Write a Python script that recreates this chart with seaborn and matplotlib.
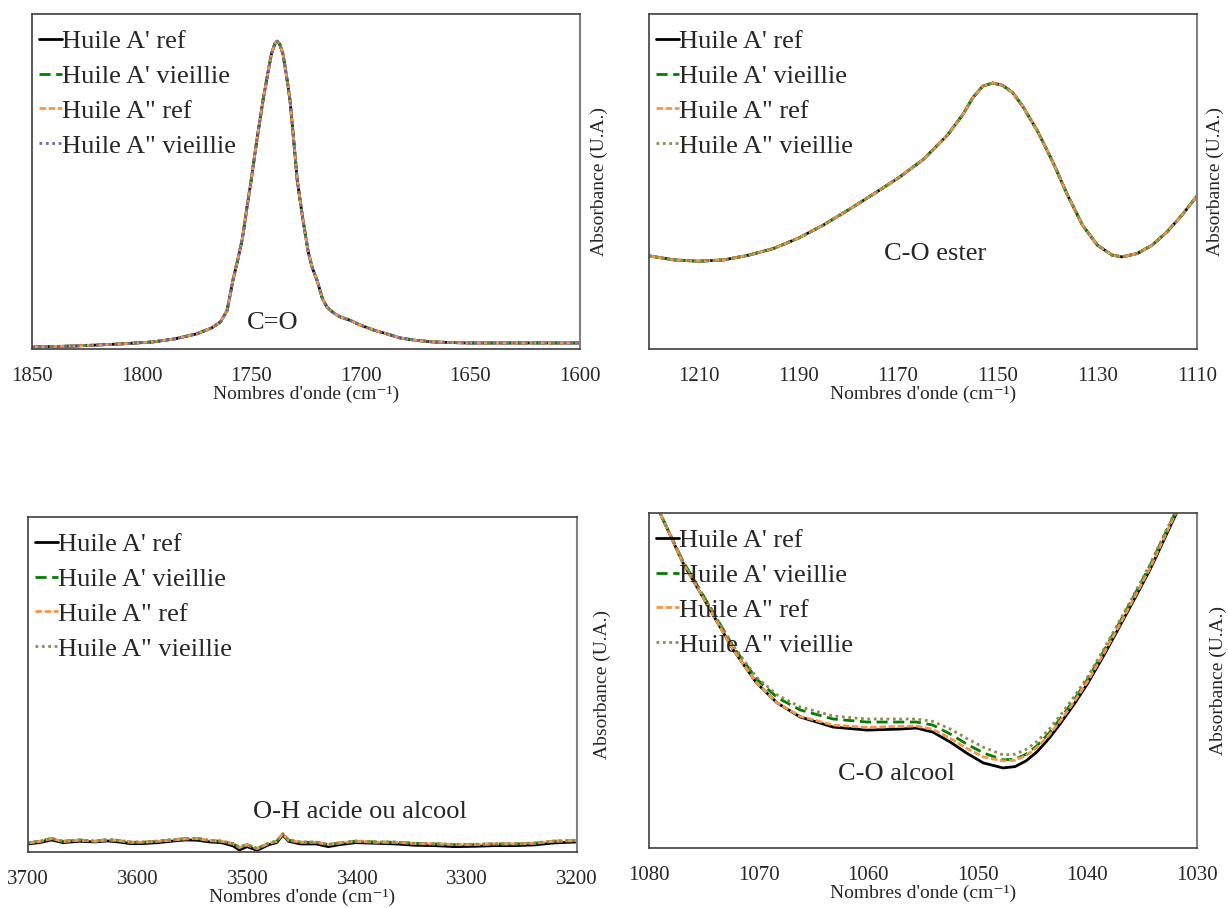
import matplotlib
matplotlib.use("Agg")
import matplotlib.pyplot as plt
import numpy as np
import pandas as pd
import seaborn as sns

# ---------------- data ----------------
series_names = ["Huile A' ref", "Huile A' vieillie", 'Huile A" ref', 'Huile A" vieillie']

# Panel 1 : C=O (1850-1600 cm-1)
co_wn = [1850, 1830, 1810, 1795, 1785, 1775, 1768, 1764, 1761, 1758.3, 1756, 1754, 1752, 1750,
         1747.5, 1744.6, 1742.5, 1740.8, 1739.3, 1738.2, 1737, 1735.5, 1734, 1732.3, 1730.7, 1729,
         1726.5, 1724, 1722, 1720, 1717.5, 1715.4, 1712.5, 1709.5, 1705, 1700.4, 1694.4, 1688,
         1682.1, 1675, 1667.1, 1651.6, 1630, 1600]
co_abs = [0.006, 0.009, 0.015, 0.021, 0.030, 0.045, 0.063, 0.081, 0.115, 0.206, 0.27, 0.33, 0.42, 0.504,
          0.62, 0.743, 0.82, 0.88, 0.91, 0.919, 0.91, 0.88, 0.82, 0.743, 0.63, 0.504,
          0.39, 0.29, 0.24, 0.206, 0.150, 0.125, 0.108, 0.096, 0.086, 0.072, 0.057, 0.045,
          0.033, 0.026, 0.021, 0.018, 0.018, 0.018]
co_A1_ref = co_A1_vieil = co_A2_ref = co_A2_vieil = co_abs

# Panel 2 : C-O ester (1220-1110 cm-1)
est_wn = [1220, 1215, 1210, 1205, 1200, 1195, 1190, 1185, 1180, 1175, 1170, 1165, 1160, 1157, 1155,
          1153, 1151, 1149, 1147, 1145, 1142, 1139, 1136, 1133, 1130, 1127, 1125, 1122, 1119, 1116,
          1113, 1110]
est_abs = [0.278, 0.266, 0.262, 0.266, 0.280, 0.300, 0.331, 0.370, 0.415, 0.462, 0.510, 0.565, 0.640,
           0.700, 0.750, 0.785, 0.794, 0.787, 0.765, 0.725, 0.650, 0.560, 0.460, 0.370, 0.310, 0.280,
           0.275, 0.285, 0.310, 0.350, 0.400, 0.457]
est_A1_ref = est_A1_vieil = est_A2_ref = est_A2_vieil = est_abs

# Panel 3 : O-H (3700-3200 cm-1)
oh_wn = [3700, 3689.6, 3678.7, 3668, 3653.5, 3639, 3628, 3617.5, 3606.7, 3596, 3581.5, 3567, 3556,
         3545.5, 3534.6, 3523.8, 3513, 3507.6, 3500.4, 3491.4, 3480.6, 3473.4, 3468, 3462.6, 3451.8,
         3437.4, 3426.6, 3415.8, 3401.4, 3383.4, 3365.3, 3347.3, 3329.3, 3311.3, 3293.3, 3275.3,
         3257.3, 3239.2, 3221.3, 3200]
oh_A1_ref = [0.024, 0.028, 0.036, 0.028, 0.032, 0.030, 0.033, 0.030, 0.025, 0.025, 0.028, 0.033, 0.036,
             0.035, 0.030, 0.028, 0.018, 0.006, 0.016, 0.005, 0.022, 0.028, 0.051, 0.032, 0.024,
             0.024, 0.016, 0.022, 0.028, 0.026, 0.024, 0.020, 0.019, 0.016, 0.017, 0.019,
             0.019, 0.021, 0.027, 0.030]
oh_A1_vieil = [0.027, 0.032, 0.040, 0.032, 0.036, 0.032, 0.037, 0.034, 0.029, 0.029, 0.032, 0.037, 0.040,
               0.040, 0.034, 0.032, 0.024, 0.014, 0.022, 0.010, 0.026, 0.032, 0.054, 0.035, 0.029,
               0.029, 0.022, 0.027, 0.032, 0.030, 0.029, 0.026, 0.024, 0.022, 0.022, 0.024,
               0.024, 0.026, 0.032, 0.034]
oh_A2_ref = [0.027, 0.031, 0.040, 0.031, 0.035, 0.032, 0.036, 0.034, 0.029, 0.029, 0.032, 0.036, 0.039,
             0.040, 0.034, 0.032, 0.024, 0.013, 0.021, 0.010, 0.026, 0.032, 0.054, 0.035, 0.029,
             0.029, 0.022, 0.027, 0.032, 0.029, 0.029, 0.025, 0.024, 0.022, 0.022, 0.024,
             0.024, 0.026, 0.032, 0.034]
oh_A2_vieil = [0.028, 0.032, 0.041, 0.032, 0.036, 0.033, 0.037, 0.035, 0.030, 0.030, 0.033, 0.037, 0.040,
               0.041, 0.035, 0.033, 0.025, 0.015, 0.022, 0.011, 0.027, 0.033, 0.055, 0.036, 0.030,
               0.030, 0.023, 0.028, 0.033, 0.030, 0.030, 0.026, 0.025, 0.023, 0.023, 0.025,
               0.025, 0.027, 0.033, 0.035]

# Panel 4 : C-O alcool (1080-1030 cm-1)
alc_wn = [1080.5, 1079.0, 1076.9, 1074.4, 1072.3, 1070.2, 1068.3, 1066.2, 1063.2, 1060.1, 1057.1,
          1055.6, 1054.1, 1052.5, 1051.0, 1049.5, 1047.7, 1046.6, 1045.6, 1044.6, 1043.5, 1042.5,
          1041.2, 1040.0, 1038.5, 1037.0, 1035.6, 1034.3, 1032.3, 1029.5]
alc_A1_ref = [1.06, 1.000, 0.851, 0.710, 0.591, 0.493, 0.433, 0.391, 0.361, 0.352, 0.355,
              0.358, 0.346, 0.316, 0.283, 0.254, 0.239, 0.243, 0.260, 0.287, 0.327, 0.370,
              0.430, 0.490, 0.575, 0.665, 0.750, 0.830, 0.970, 1.16]
alc_A1_vieil = [1.06, 1.000, 0.856, 0.718, 0.600, 0.505, 0.449, 0.412, 0.385, 0.376, 0.376,
                0.376, 0.367, 0.340, 0.310, 0.284, 0.263, 0.265, 0.280, 0.305, 0.343, 0.385,
                0.443, 0.503, 0.588, 0.677, 0.762, 0.842, 0.980, 1.17]
alc_A2_ref = [1.06, 1.000, 0.851, 0.710, 0.591, 0.493, 0.433, 0.393, 0.367, 0.360, 0.363,
              0.364, 0.354, 0.327, 0.297, 0.272, 0.260, 0.262, 0.276, 0.300, 0.337, 0.378,
              0.437, 0.496, 0.581, 0.670, 0.755, 0.835, 0.975, 1.16]
alc_A2_vieil = [1.06, 1.000, 0.856, 0.718, 0.603, 0.510, 0.457, 0.421, 0.394, 0.385, 0.385,
                0.385, 0.378, 0.355, 0.327, 0.301, 0.278, 0.280, 0.294, 0.318, 0.354, 0.395,
                0.452, 0.510, 0.594, 0.682, 0.766, 0.846, 0.983, 1.17]

# ---------------- style ----------------
sns.set_style("white")
plt.rcParams["font.family"] = ["Liberation Serif", "DejaVu Serif"]

W, H = 1228, 908
fig = plt.figure(figsize=(W / 100, H / 100), dpi=100)


def box(l, t, r, b):
    return [l / W, 1 - b / H, (r - l) / W, (b - t) / H]


LW = 2.0
base_styles = [
    dict(color="black", linestyle="-"),
    dict(color="#008000", linestyle=(0, (4, 2))),
    dict(color="#F79646", linestyle=(0, (2.4, 0.9))),
    dict(color="#938953", linestyle=(0, (1, 1.3))),
]

panels = [
    dict(box=box(32, 14, 580, 349), wn=co_wn,
         ys=[co_A1_ref, co_A1_vieil, co_A2_ref, co_A2_vieil],
         xlim=(1850, 1600), ticks=[1850, 1800, 1750, 1700, 1650, 1600],
         last="#8064A2", text="C=O", tpos=(0.44, 0.078), ylpad=8),
    dict(box=box(649, 14, 1197, 349), wn=est_wn,
         ys=[est_A1_ref, est_A1_vieil, est_A2_ref, est_A2_vieil],
         xlim=(1220, 1110), ticks=[1210, 1190, 1170, 1150, 1130, 1110],
         last="#938953", text="C-O ester", tpos=(0.522, 0.284), ylpad=7),
    dict(box=box(28, 517, 577, 852), wn=oh_wn,
         ys=[oh_A1_ref, oh_A1_vieil, oh_A2_ref, oh_A2_vieil],
         xlim=(3700, 3200), ticks=[3700, 3600, 3500, 3400, 3300, 3200],
         last="#938953", text="O-H acide ou alcool", tpos=(0.605, 0.119), ylpad=12),
    dict(box=box(649, 513, 1197, 848), wn=alc_wn,
         ys=[alc_A1_ref, alc_A1_vieil, alc_A2_ref, alc_A2_vieil],
         xlim=(1080, 1030), ticks=[1080, 1070, 1060, 1050, 1040, 1030],
         last="#938953", text="C-O alcool", tpos=(0.451, 0.221), ylpad=9),
]

for p in panels:
    ax = fig.add_axes(p["box"])
    for i, (name, yv) in enumerate(zip(series_names, p["ys"])):
        st = dict(base_styles[i])
        if i == 3:
            st["color"] = p["last"]
        df = pd.DataFrame({"wn": p["wn"], "abs": yv})
        sns.lineplot(data=df, x="wn", y="abs", ax=ax, sort=False, estimator=None,
                     label=name, linewidth=LW, **st)
    ax.set_xlim(*p["xlim"])
    ax.set_ylim(0, 1)
    ax.set_xticks(p["ticks"])
    ax.set_xticklabels([str(t) for t in p["ticks"]], fontsize=15)
    ax.set_yticks([])
    ax.tick_params(axis="x", direction="out", length=6, width=1, color="#404040", pad=7)
    ax.set_xlabel("Nombres d'onde (cm\u207b\u00b9)", fontsize=14, labelpad=0)
    ax.set_ylabel("Absorbance (U.A.)", fontsize=14, labelpad=p["ylpad"])
    ax.yaxis.set_label_position("right")
    for side in ["left", "top", "bottom"]:
        ax.spines[side].set_visible(True)
        ax.spines[side].set_color("#404040")
        ax.spines[side].set_linewidth(1.2)
    ax.spines["right"].set_visible(True)
    ax.spines["right"].set_color("#808080")
    ax.spines["right"].set_linewidth(1.5)
    ax.text(p["tpos"][0], p["tpos"][1], p["text"], transform=ax.transAxes,
            ha="center", va="center", fontsize=19)
    ax.legend(loc="upper left", bbox_to_anchor=(0.0, 1 - 9 / 335), frameon=False,
              fontsize=19, handlelength=0.9, handletextpad=0.0, labelspacing=0.43,
              borderaxespad=0.0, borderpad=0.25)

fig.savefig("out.png", dpi=100)
